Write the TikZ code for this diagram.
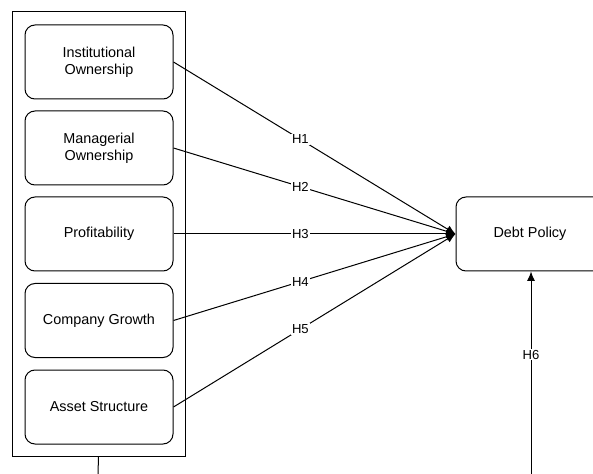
\documentclass[tikz,border=0pt]{standalone}
\usepackage{fontspec}
\setmainfont{Liberation Sans}
\usetikzlibrary{arrows.meta}

\begin{document}
\begin{tikzpicture}[x=0.75pt,y=-0.75pt,line width=0.75pt,
		var/.style={draw,rounded corners=7.5pt,minimum width=111pt,minimum height=55.5pt,align=center,font=\fontsize{10.8}{13}\selectfont},
		hyp/.style={fill=white,inner sep=1pt,font=\fontsize{9.8}{11}\selectfont}]
		\useasboundingbox (0,0) rectangle (593,474);
		\node[draw,minimum width=129.75pt,minimum height=333pt] (group) at (98.5,234) {};
		\node[var] (A) at (99,62) {Institutional\\Ownership};
		\node[var] (B) at (99,148) {Managerial\\Ownership};
		\node[var] (C) at (99,234) {Profitability};
		\node[var] (D) at (99,320.5) {Company Growth};
		\node[var] (E) at (99,407) {Asset Structure};
		\node[var] (Y) at (530,234) {Debt Policy};
		\coordinate (groupout) at (98,474);
		\coordinate (h6start) at (531,474);

		\draw[-{Latex[length=7pt,width=6pt]}] (A.east) -- node[hyp,pos=0.45] {H1} (Y.west);
		\draw[-{Latex[length=7pt,width=6pt]}] (B.east) -- node[hyp,pos=0.45] {H2} (Y.west);
		\draw[-{Latex[length=7pt,width=6pt]}] (C.east) -- node[hyp,pos=0.45] {H3} (Y.west);
		\draw[-{Latex[length=7pt,width=6pt]}] (D.east) -- node[hyp,pos=0.45] {H4} (Y.west);
		\draw[-{Latex[length=7pt,width=6pt]}] (E.east) -- node[hyp,pos=0.45] {H5} (Y.west);

		\draw (group.south) -- (groupout);
		\draw[-{Latex[length=7pt,width=6pt]}] (h6start) -- node[hyp,pos=0.59] {H6} (Y.south -| h6start);
	\end{tikzpicture}
\end{document}
